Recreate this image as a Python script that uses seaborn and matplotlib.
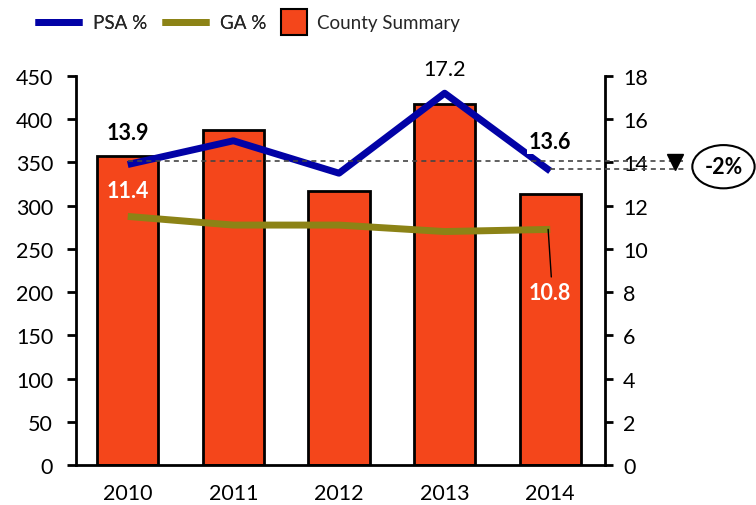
import matplotlib
matplotlib.use("Agg")
import matplotlib.pyplot as plt
import pandas as pd
import seaborn as sns
from matplotlib.lines import Line2D
from matplotlib.patches import Ellipse

years = ["2010", "2011", "2012", "2013", "2014"]
county = [357, 387, 317, 417, 313]
psa = [13.9, 15.0, 13.5, 17.2, 13.6]
ga = [11.5, 11.1, 11.1, 10.8, 10.9]
ga_labels = ["11.4", "10.8"]
change_label = "-2%"

BAR_COL = "#F4461B"
PSA_COL = "#0202A6"
GA_COL = "#8C8316"

sns.set_theme(style="white")
plt.rcParams["font.family"] = ["Lato", "DejaVu Sans"]

df = pd.DataFrame({"Year": years, "County": county, "PSA": psa, "GA": ga})

fig = plt.figure(figsize=(7.56, 5.06), dpi=100)
ax = fig.add_axes([0.1005, 0.079, 0.700, 0.769])

sns.barplot(data=df, x="Year", y="County", color=BAR_COL, saturation=1,
            width=0.58, edgecolor="black", linewidth=2, ax=ax, zorder=2)
ax.set_ylim(0, 450)
ax.set_yticks(range(0, 451, 50))
ax.set_xlim(-0.49, 4.52)
ax.set_xlabel("")
ax.set_ylabel("")

ax2 = ax.twinx()
xs = list(range(len(years)))
ax2.plot(xs, df["PSA"], color=PSA_COL, lw=5, zorder=3, solid_capstyle="butt")
ax2.plot(xs, df["GA"], color=GA_COL, lw=5, zorder=3, solid_capstyle="butt")
ax2.set_ylim(0, 18)
ax2.set_yticks(range(0, 19, 2))
ax2.set_xlim(-0.49, 4.52)

for a in (ax, ax2):
    for s in a.spines.values():
        s.set_visible(False)
ax.spines["left"].set_visible(True)
ax.spines["bottom"].set_visible(True)
ax2.spines["right"].set_visible(True)
for s in (ax.spines["left"], ax.spines["bottom"], ax2.spines["right"]):
    s.set_color("black")
    s.set_linewidth(2)

ax.tick_params(axis="y", left=True, length=6.5, width=2, labelsize=15.5, pad=10, colors="black")
ax.tick_params(axis="x", bottom=False, labelsize=15.5, pad=7, colors="black")
ax2.tick_params(axis="y", right=True, length=6, width=2, labelsize=15.5, pad=7, colors="black")

# dashed reference lines from first and last PSA points
xr = 5.28
ax2.plot([0, xr], [psa[0] + 0.15, psa[0] + 0.15], ls=(0, (3, 2.5)), color="#444444",
         lw=1.2, clip_on=False, zorder=4)
ax2.plot([4, xr], [psa[-1] + 0.1, psa[-1] + 0.1], ls=(0, (3, 2.5)), color="#444444",
         lw=1.2, clip_on=False, zorder=4)
ax2.plot([5.18], [psa[0] + 0.1], marker="v", color="black", ms=11, clip_on=False, zorder=5)
ell = Ellipse((5.64, 13.8), 0.59, 2.0, transform=ax2.transData,
              fill=False, edgecolor="black", lw=1.5, clip_on=False)
ax2.add_patch(ell)
ax2.text(5.64, 13.8, change_label, ha="center", va="center",
         fontsize=15.5, fontweight="bold", color="black", clip_on=False)

# value labels
ax2.text(0, 15.4, f"{psa[0]}", ha="center", va="center", fontsize=15.5, fontweight="bold", color="black")
ax2.text(0, 12.7, ga_labels[0], ha="center", va="center", fontsize=15.5, fontweight="bold", color="white")
ax2.text(3, 18.3, f"{psa[3]}", ha="center", va="center", fontsize=15.5, color="black")
ax2.text(4.0, 14.95, f"{psa[4]}", ha="center", va="center", fontsize=15.5, fontweight="bold", color="black",
         bbox=dict(boxstyle="square,pad=0.1", fc="white", ec="none"), zorder=6)
ax2.plot([3.98, 4.01], [ga[-1], 8.7], color="black", lw=1, zorder=5)
ax2.text(4.0, 8.0, ga_labels[1], ha="center", va="center", fontsize=15.5, fontweight="bold", color="white")

# legend: two lines, then the bar swatch
line_handles = [Line2D([], [], color=PSA_COL, lw=5, solid_capstyle="butt"),
                Line2D([], [], color=GA_COL, lw=5, solid_capstyle="butt")]
leg1 = fig.legend(line_handles, ["PSA %", "GA %"], loc="center left",
                  bbox_to_anchor=(35 / 756, 0.953), ncol=2, frameon=False, fontsize=13.5,
                  handlelength=2.5, columnspacing=0.8, handletextpad=0.6, borderpad=0,
                  borderaxespad=0)
bar_handle = Line2D([], [], ls="none", marker="s", ms=19, mfc=BAR_COL, mec="black", mew=1.5)
leg2 = fig.legend([bar_handle], ["County Summary"],
                  loc="center left", bbox_to_anchor=(280 / 756, 0.953), frameon=False,
                  fontsize=13.5, handlelength=1.45, handletextpad=0.5,
                  borderpad=0, borderaxespad=0)
fig.add_artist(leg1)

fig.savefig("out.png", dpi=100)
